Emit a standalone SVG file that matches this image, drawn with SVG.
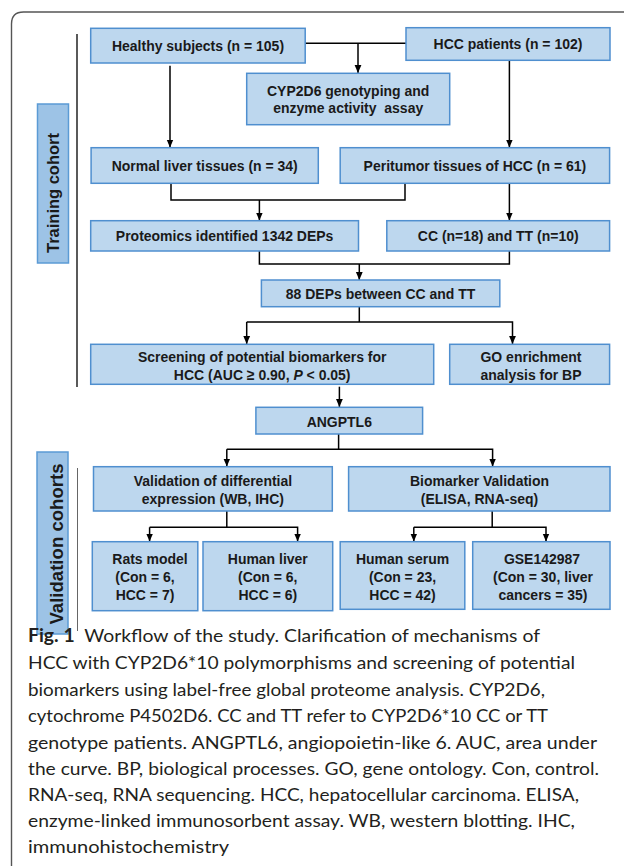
<svg xmlns="http://www.w3.org/2000/svg" width="624" height="866" viewBox="0 0 624 866">
<style>
.box{fill:#bdd7ee;stroke:#4f8fcf;stroke-width:1.5}
.side{fill:#9dc3e6;stroke:#5b9bd5;stroke-width:1.5}
.t{font-family:"Liberation Sans",Arial,sans-serif;font-weight:bold;font-size:15.5px;fill:#1a1a1a;text-anchor:middle}
.st{font-family:"Liberation Sans",Arial,sans-serif;font-weight:bold;fill:#1a1a1a;text-anchor:middle}
.ln{fill:none;stroke:#000;stroke-width:1.5}
.cap{font-family:Lato,"Open Sans",sans-serif;font-size:18px;fill:#231f20}
</style>
<defs>
<marker id="ah" viewBox="0 0 8 8" refX="8" refY="4" markerWidth="8" markerHeight="8" markerUnits="userSpaceOnUse" orient="auto">
<path d="M0,0.6 L8,4 L0,7.4 z" fill="#000"/>
</marker>
</defs>
<path d="M11.5,866 L11.5,24 Q11.5,12 23.5,12 L624,12" fill="none" stroke="#555" stroke-width="1.4"/>
<line x1="77" y1="34" x2="77" y2="387" stroke="#000" stroke-width="1.3"/>
<line x1="77.5" y1="468" x2="77.5" y2="631" stroke="#666" stroke-width="1"/>

<g id="training-label">
<rect class="side" x="37.5" y="104" width="31" height="159"/>
<text class="st" font-size="16" x="59" y="193" transform="rotate(-90 59 193)" textLength="120" lengthAdjust="spacingAndGlyphs">Training cohort</text>
</g>
<g id="validation-label">
<rect class="side" x="37" y="452" width="31" height="182"/>
<text class="st" font-size="17.5" x="62.5" y="544" transform="rotate(-90 62.5 544)" textLength="161" lengthAdjust="spacingAndGlyphs">Validation cohorts</text>
</g>

<g id="connectors">
<line class="ln" x1="305" y1="43.3" x2="406" y2="43.3"/>
<line class="ln" x1="358" y1="43.3" x2="358" y2="73" marker-end="url(#ah)"/>
<line class="ln" x1="170" y1="65.7" x2="170" y2="147.5" marker-end="url(#ah)"/>
<line class="ln" x1="509.4" y1="61" x2="509.4" y2="147.5" marker-end="url(#ah)"/>
<path class="ln" d="M171,183.3 V200 H405 V183.3"/>
<line class="ln" x1="259.4" y1="200" x2="259.4" y2="220.5" marker-end="url(#ah)"/>
<line class="ln" x1="509.4" y1="183.3" x2="509.4" y2="220.5" marker-end="url(#ah)"/>
<path class="ln" d="M259.4,251 V264 H509.4 V251"/>
<line class="ln" x1="359.3" y1="264" x2="359.3" y2="280" marker-end="url(#ah)"/>
<line class="ln" x1="359.3" y1="306.7" x2="359.3" y2="322"/>
<path class="ln" d="M246.7,322 H512.5 V344" marker-end="url(#ah)"/>
<line class="ln" x1="246.7" y1="322" x2="246.7" y2="344" marker-end="url(#ah)"/>
<line class="ln" x1="339.4" y1="386.7" x2="339.4" y2="407" marker-end="url(#ah)"/>
<line class="ln" x1="338.6" y1="434" x2="338.6" y2="449.3"/>
<path class="ln" d="M226.8,449.3 H492.6 V466.5" marker-end="url(#ah)"/>
<line class="ln" x1="226.8" y1="449.3" x2="226.8" y2="466.5" marker-end="url(#ah)"/>
<line class="ln" x1="226.8" y1="511" x2="226.8" y2="527.3"/>
<path class="ln" d="M149.6,527.3 H297.6 V541.5" marker-end="url(#ah)"/>
<line class="ln" x1="149.6" y1="527.3" x2="149.6" y2="541.5" marker-end="url(#ah)"/>
<line class="ln" x1="492.2" y1="511" x2="492.2" y2="527.3"/>
<path class="ln" d="M413.8,527.3 H546 V541.5" marker-end="url(#ah)"/>
<line class="ln" x1="413.8" y1="527.3" x2="413.8" y2="541.5" marker-end="url(#ah)"/>
</g>

<g id="healthy">
<rect class="box" x="90.7" y="28.3" width="214.5" height="34.7"/>
<text class="t" transform="scale(0.903 1)" x="219.27" y="51.5">Healthy subjects (n = 105)</text>
</g>
<g id="hcc-patients">
<rect class="box" x="406" y="27.7" width="204" height="32.6"/>
<text class="t" transform="scale(0.903 1)" x="562.57" y="49.5">HCC patients (n = 102)</text>
</g>
<g id="cyp2d6">
<rect class="box" x="246.7" y="73.3" width="203" height="51.4"/>
<text class="t" transform="scale(0.903 1)" x="385.6" y="96">CYP2D6 genotyping and</text>
<text class="t" transform="scale(0.903 1)" x="385.6" y="113.5" xml:space="preserve">enzyme activity  assay</text>
</g>
<g id="normal-liver">
<rect class="box" x="91.1" y="147.7" width="227.2" height="35.6"/>
<text class="t" transform="scale(0.903 1)" x="226.69" y="171.5">Normal liver tissues (n = 34)</text>
</g>
<g id="peritumor">
<rect class="box" x="340.2" y="147.7" width="269.4" height="35.6"/>
<text class="t" transform="scale(0.903 1)" x="525.91" y="171.5">Peritumor tissues of HCC (n = 61)</text>
</g>
<g id="proteomics">
<rect class="box" x="90.7" y="220.7" width="267.8" height="30.3"/>
<text class="t" transform="scale(0.903 1)" x="248.73" y="240.7">Proteomics identified 1342 DEPs</text>
</g>
<g id="cc-tt">
<rect class="box" x="386.8" y="220.7" width="222.8" height="30.3"/>
<text class="t" transform="scale(0.903 1)" x="551.72" y="240.7">CC (n=18) and TT (n=10)</text>
</g>
<g id="deps88">
<rect class="box" x="261.4" y="280" width="238.4" height="26.7"/>
<text class="t" transform="scale(0.903 1)" x="421.48" y="299">88 DEPs between CC and TT</text>
</g>
<g id="screening">
<rect class="box" x="90.7" y="344.3" width="343" height="40"/>
<text class="t" transform="scale(0.903 1)" x="290.37" y="361.7">Screening of potential biomarkers for</text>
<text class="t" transform="scale(0.903 1)" x="290.37" y="380">HCC (AUC ≥ 0.90, <tspan font-style="italic">P</tspan> &lt; 0.05)</text>
</g>
<g id="go">
<rect class="box" x="449.7" y="344.3" width="159.9" height="40"/>
<text class="t" transform="scale(0.903 1)" x="588.04" y="361.7">GO enrichment</text>
<text class="t" transform="scale(0.903 1)" x="588.04" y="380">analysis for BP</text>
</g>
<g id="angptl6">
<rect class="box" x="255.9" y="407.3" width="166.7" height="26.7"/>
<text class="t" transform="scale(0.903 1)" x="375.75" y="426.7">ANGPTL6</text>
</g>
<g id="validation-diff">
<rect class="box" x="93.5" y="466.7" width="238.8" height="44.3"/>
<text class="t" transform="scale(0.903 1)" x="235.77" y="486">Validation of differential</text>
<text class="t" transform="scale(0.903 1)" x="235.77" y="504">expression (WB, IHC)</text>
</g>
<g id="biomarker-validation">
<rect class="box" x="348.6" y="466.7" width="261.4" height="44.3"/>
<text class="t" transform="scale(0.903 1)" x="531.01" y="486">Biomarker Validation</text>
<text class="t" transform="scale(0.903 1)" x="531.01" y="504">(ELISA, RNA-seq)</text>
</g>
<g id="rats">
<rect class="box" x="92.3" y="541.7" width="105.5" height="69"/>
<text class="t" transform="scale(0.903 1)" x="166.11" y="564.3">Rats model</text>
<text class="t" transform="scale(0.903 1)" x="160.58" y="582.3">(Con = 6,</text>
<text class="t" transform="scale(0.903 1)" x="160.58" y="600">HCC = 7)</text>
</g>
<g id="human-liver">
<rect class="box" x="203" y="541.7" width="129.7" height="69"/>
<text class="t" transform="scale(0.903 1)" x="296.57" y="564.3">Human liver</text>
<text class="t" transform="scale(0.903 1)" x="296.57" y="582.3">(Con = 6,</text>
<text class="t" transform="scale(0.903 1)" x="296.57" y="600">HCC = 6)</text>
</g>
<g id="human-serum">
<rect class="box" x="340.2" y="541.7" width="124.6" height="67.6"/>
<text class="t" transform="scale(0.903 1)" x="445.74" y="564.3">Human serum</text>
<text class="t" transform="scale(0.903 1)" x="445.74" y="582.3">(Con = 23,</text>
<text class="t" transform="scale(0.903 1)" x="445.74" y="600">HCC = 42)</text>
</g>
<g id="gse">
<rect class="box" x="472.7" y="541.7" width="137.3" height="67.6"/>
<text class="t" transform="scale(0.903 1)" x="600.22" y="564.3">GSE142987</text>
<text class="t" transform="scale(0.903 1)" x="601.33" y="582.3">(Con = 30, liver</text>
<text class="t" transform="scale(0.903 1)" x="601.33" y="600">cancers = 35)</text>
</g>

<g id="caption">
<text class="cap" x="28" y="642" textLength="512" lengthAdjust="spacingAndGlyphs"><tspan font-weight="bold">Fig. 1</tspan><tspan dx="9">Workflow of the study. Clarification of mechanisms of</tspan></text>
<text class="cap" x="28" y="669" textLength="547" lengthAdjust="spacingAndGlyphs">HCC with CYP2D6*10 polymorphisms and screening of potential</text>
<text class="cap" x="28" y="696" textLength="517" lengthAdjust="spacingAndGlyphs">biomarkers using label-free global proteome analysis. CYP2D6,</text>
<text class="cap" x="28" y="722" textLength="520" lengthAdjust="spacingAndGlyphs">cytochrome P4502D6. CC and TT refer to CYP2D6*10 CC or TT</text>
<text class="cap" x="28" y="749" textLength="569" lengthAdjust="spacingAndGlyphs">genotype patients. ANGPTL6, angiopoietin-like 6. AUC, area under</text>
<text class="cap" x="28" y="775" textLength="571" lengthAdjust="spacingAndGlyphs">the curve. BP, biological processes. GO, gene ontology. Con, control.</text>
<text class="cap" x="28" y="801" textLength="551" lengthAdjust="spacingAndGlyphs">RNA-seq, RNA sequencing. HCC, hepatocellular carcinoma. ELISA,</text>
<text class="cap" x="28" y="827" textLength="547" lengthAdjust="spacingAndGlyphs">enzyme-linked immunosorbent assay. WB, western blotting. IHC,</text>
<text class="cap" x="28" y="853" textLength="201" lengthAdjust="spacingAndGlyphs">immunohistochemistry</text>
</g>
</svg>
